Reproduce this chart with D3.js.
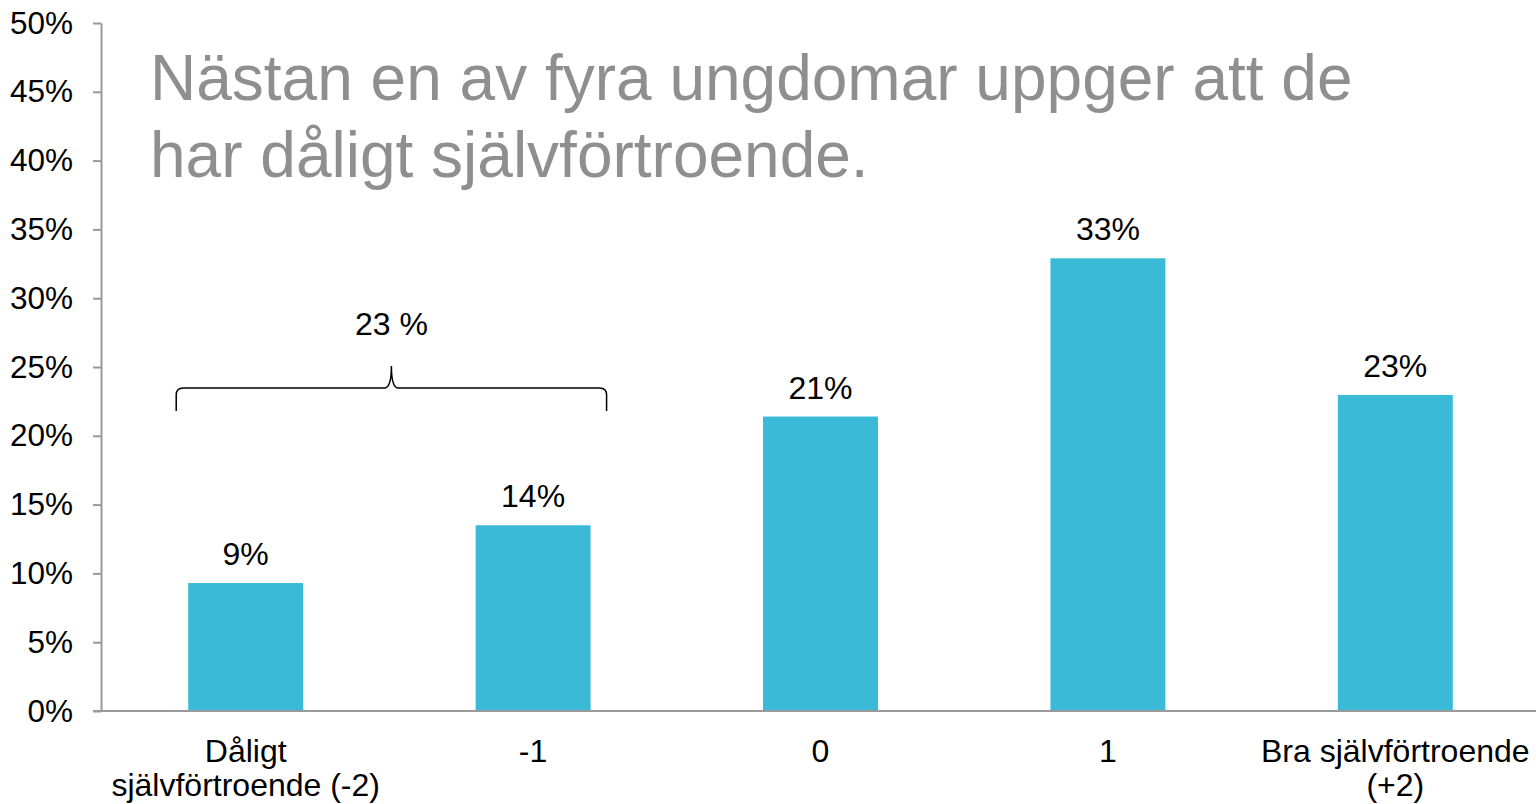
<!DOCTYPE html>
<html>
<head>
<meta charset="utf-8">
<script src="https://cdn.jsdelivr.net/npm/d3@7"></script>
<style>
  body { margin: 0; background: #fff; }
  text { font-family: "Liberation Sans", Arial, sans-serif; }
</style>
</head>
<body>
<div id="chart"></div>
<script>
// data
var categories = ["Dåligt\nsjälvförtroende (-2)", "-1", "0", "1", "Bra självförtroende\n(+2)"];
var values = [9.3, 13.5, 21.4, 32.9, 22.97];
var valueLabels = ["9%", "14%", "21%", "33%", "23%"];
var yTicks = [0, 5, 10, 15, 20, 25, 30, 35, 40, 45, 50];
var titleLines = ["Nästan en av fyra ungdomar uppger att de", "har dåligt självförtroende."];
var braceLabel = "23 %";

var width = 1536, height = 804;
var margin = { top: 23, right: 0, bottom: 93, left: 101 };

var svg = d3.select("#chart")
  .append("svg")
  .attr("width", width)
  .attr("height", height);

var x = d3.scaleBand()
  .domain(categories)
  .range([margin.left + 1, 1539])
  .paddingInner(0.6)
  .paddingOuter(0.3);

var y = d3.scaleLinear()
  .domain([0, 50])
  .range([height - margin.bottom, margin.top]);

// y axis
var yAxis = svg.append("g")
  .attr("transform", "translate(" + margin.left + ",0)")
  .call(d3.axisLeft(y).tickValues(yTicks).tickFormat(d => d + "%").tickSize(8).tickPadding(20).tickSizeOuter(0));
yAxis.select(".domain").attr("stroke", "#9a9a9a").attr("stroke-width", 2);
yAxis.selectAll(".tick line").attr("stroke", "#9a9a9a").attr("stroke-width", 2);
yAxis.selectAll(".tick text")
  .attr("fill", "#000")
  .style("font-size", "31.5px")
  .style("font-family", "Liberation Sans, Arial, sans-serif");

// x axis line
svg.append("line")
  .attr("x1", margin.left - 8)
  .attr("x2", width)
  .attr("y1", y(0))
  .attr("y2", y(0))
  .attr("stroke", "#9a9a9a")
  .attr("stroke-width", 2);

// bars
svg.append("g")
  .selectAll("rect")
  .data(values)
  .enter().append("rect")
  .attr("x", (d, i) => x(categories[i]))
  .attr("y", d => y(d))
  .attr("width", x.bandwidth())
  .attr("height", d => y(0) - y(d) - 1)
  .attr("fill", "#3bbad8");

// value labels
svg.append("g")
  .selectAll("text")
  .data(values)
  .enter().append("text")
  .attr("x", (d, i) => x(categories[i]) + x.bandwidth() / 2)
  .attr("y", d => y(d) - 18)
  .attr("text-anchor", "middle")
  .style("font-size", "32px")
  .text((d, i) => valueLabels[i]);

// category labels
var catG = svg.append("g");
categories.forEach(function (c, i) {
  var t = catG.append("text")
    .attr("x", x(c) + x.bandwidth() / 2)
    .attr("y", 762)
    .attr("text-anchor", "middle")
    .style("font-size", "32px");
  c.split("\n").forEach(function (line, j) {
    t.append("tspan")
      .attr("x", x(c) + x.bandwidth() / 2)
      .attr("dy", j === 0 ? 0 : 34)
      .text(line);
  });
});

// brace over the first two bars
var bx0 = x(categories[0]) - 12, bx1 = x(categories[1]) + x.bandwidth() + 16;
var bmid = (bx0 + bx1) / 2;
var bTop = 388, bEnd = 411, bTip = 366;
var brace = d3.path();
brace.moveTo(bx0, bEnd);
brace.lineTo(bx0, bTop + 7);
brace.quadraticCurveTo(bx0, bTop, bx0 + 7, bTop);
brace.lineTo(bmid - 7, bTop);
brace.quadraticCurveTo(bmid, bTop, bmid, bTip);
brace.quadraticCurveTo(bmid, bTop, bmid + 7, bTop);
brace.lineTo(bx1 - 7, bTop);
brace.quadraticCurveTo(bx1, bTop, bx1, bTop + 7);
brace.lineTo(bx1, bEnd);
svg.append("path")
  .attr("d", brace.toString())
  .attr("fill", "none")
  .attr("stroke", "#000")
  .attr("stroke-width", 1.5);

svg.append("text")
  .attr("x", bmid)
  .attr("y", 335)
  .attr("text-anchor", "middle")
  .style("font-size", "32px")
  .text(braceLabel);

// title
svg.append("g")
  .selectAll("text")
  .data(titleLines)
  .enter().append("text")
  .attr("x", 150)
  .attr("y", (d, i) => 100 + i * 77)
  .attr("fill", "#8f8f8f")
  .style("font-size", "64px")
  .text(d => d);
</script>
</body>
</html>
